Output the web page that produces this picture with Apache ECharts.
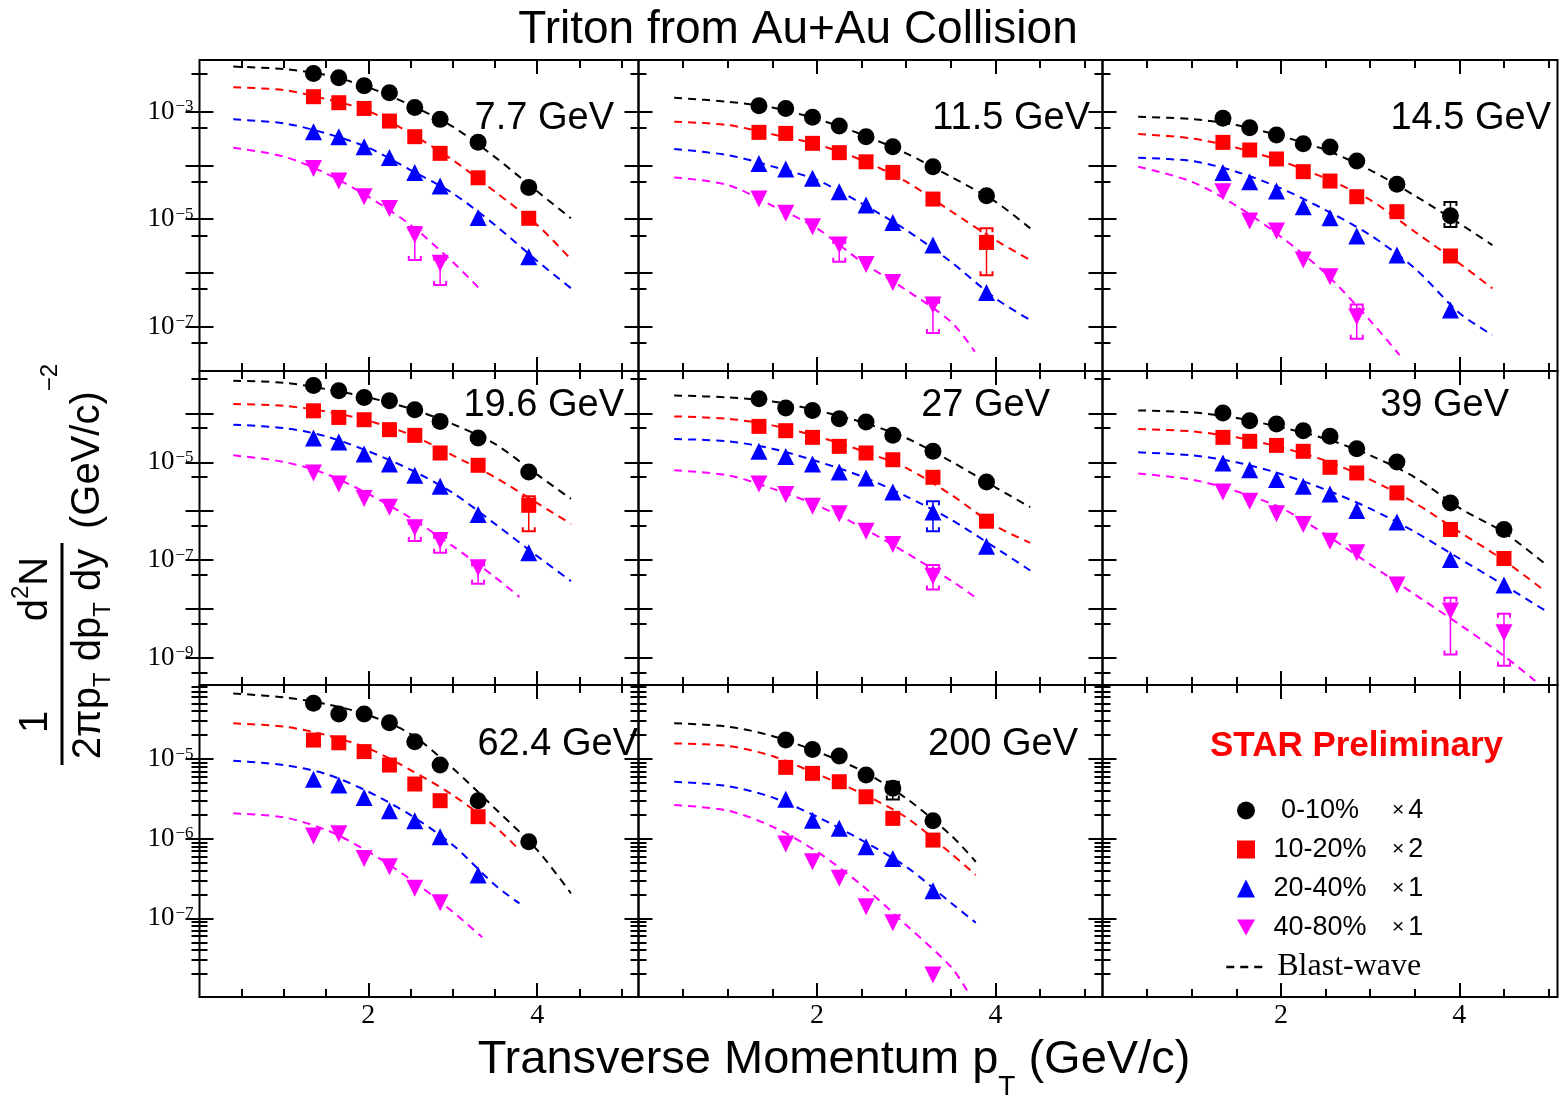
<!DOCTYPE html>
<html><head><meta charset="utf-8">
<script src="https://cdn.jsdelivr.net/npm/echarts@6/dist/echarts.min.js"></script>
<style>html,body{margin:0;padding:0;background:#fff}#c{width:1560px;height:1101px}</style>
</head><body><div id="c"></div>
<script>
// ---------------- DATA ----------------
const centralities = ['0-10%', '10-20%', '20-40%', '40-80%'];
const scaleFactors = [4, 2, 1, 1];
const energies = ['7.7 GeV', '11.5 GeV', '14.5 GeV', '19.6 GeV', '27 GeV', '39 GeV', '62.4 GeV', '200 GeV'];
const ptBins = [1.35, 1.65, 1.95, 2.25, 2.55, 2.85, 3.3, 3.9, 4.5];

// measured spectra, order: 0-10%, 10-20%, 20-40%, 40-80% (aligned with ptBins)
const pts_7p7 = [
  [5.16e-3, 4.30e-3, 3.05e-3, 2.25e-3, 1.2e-3, 7.2e-4, 2.69e-4, 3.91e-5, null],
  [1.9e-3, 1.47e-3, 1.15e-3, 6.7e-4, 3.43e-4, 1.68e-4, 5.9e-5, 1.04e-5, null],
  [4.25e-4, 3.43e-4, 2.23e-4, 1.41e-4, 7.4e-5, 4.14e-5, 1.08e-5, 2.0e-6, null],
  [8.8e-5, 5.13e-5, 2.62e-5, 1.59e-5, 5.07e-6, 1.51e-6, null, null, null]
];
const pts_11p5 = [
  [1.29e-3, 1.15e-3, 7.85e-4, 5.41e-4, 3.43e-4, 2.23e-4, 9.5e-5, 2.74e-5, null],
  [4.13e-4, 3.95e-4, 2.58e-4, 1.73e-4, 1.17e-4, 7.43e-5, 2.37e-5, 3.7e-6, null],
  [1.09e-4, 8.57e-5, 5.75e-5, 3.25e-5, 1.84e-5, 8.7e-6, 3.3e-6, 4.35e-7, null],
  [2.37e-5, 1.29e-5, 7.24e-6, 3.3e-6, 1.44e-6, 6.68e-7, 2.53e-7, null, null]
];
const pts_14p5 = [
  [7.52e-4, 5.04e-4, 3.68e-4, 2.54e-4, 2.2e-4, 1.21e-4, 4.45e-5, 1.16e-5, null],
  [2.69e-4, 1.94e-4, 1.32e-4, 7.66e-5, 5.13e-5, 2.62e-5, 1.38e-5, 2.07e-6, null],
  [7.43e-5, 4.99e-5, 3.34e-5, 1.71e-5, 1.07e-5, 4.86e-6, 2.15e-6, 2.04e-7, null],
  [3.25e-5, 9.25e-6, 6.03e-6, 1.74e-6, 8.51e-7, 1.54e-7, null, null, null]
];
const pts_19p6 = [
  [3.72e-4, 2.9e-4, 2.12e-4, 1.82e-4, 1.19e-4, 6.87e-5, 3.14e-5, 6.35e-6, null],
  [1.13e-4, 8.28e-5, 7.43e-5, 4.65e-5, 3.56e-5, 1.55e-5, 8.69e-6, 1.32e-6, null],
  [3.14e-5, 2.6e-5, 1.48e-5, 9.24e-6, 5.43e-6, 3.24e-6, 8.55e-7, 1.41e-7, null],
  [6.05e-6, 3.61e-6, 1.82e-6, 1.21e-6, 4.57e-7, 2.52e-7, 6.98e-8, null, null]
];
const pts_27 = [
  [1.99e-4, 1.29e-4, 1.15e-4, 7.78e-5, 6.65e-5, 3.56e-5, 1.68e-5, 3.97e-6, null],
  [5.43e-5, 4.43e-5, 3.24e-5, 2.12e-5, 1.55e-5, 1.13e-5, 4.94e-6, 6.25e-7, null],
  [1.68e-5, 1.32e-5, 9.24e-6, 6.35e-6, 4.79e-6, 2.48e-6, 9.69e-7, 1.93e-7, null],
  [3.61e-6, 2.19e-6, 1.26e-6, 8.83e-7, 3.91e-7, 2.09e-7, 4.71e-8, null, null]
];
const pts_39 = [
  [1.02e-4, 7.08e-5, 6.05e-5, 4.43e-5, 3.4e-5, 1.9e-5, 1.02e-5, 1.48e-6, 4.23e-7],
  [3.24e-5, 2.69e-5, 2.22e-5, 1.68e-5, 7.91e-6, 6.05e-6, 2.37e-6, 4.23e-7, 1.08e-7],
  [9.69e-6, 7.08e-6, 4.43e-6, 3.24e-6, 2.26e-6, 1.03e-6, 6.05e-7, 1.03e-7, 3.09e-8],
  [2.48e-6, 1.6e-6, 8.83e-7, 5.35e-7, 2.44e-7, 1.41e-7, 3.09e-8, 9.1e-9, 3.29e-9]
];
const pts_62p4 = [
  [5.0e-5, 3.67e-5, 3.67e-5, 2.86e-5, 1.65e-5, 8.41e-6, 3.0e-6, 9.16e-7, null],
  [1.73e-5, 1.6e-5, 1.24e-5, 8.41e-6, 4.86e-6, 3.0e-6, 1.89e-6, null, null],
  [5.56e-6, 4.72e-6, 3.3e-6, 2.25e-6, 1.68e-6, 1.06e-6, 3.5e-7, null, null],
  [1.08e-6, 1.15e-6, 5.66e-7, 4.45e-7, 2.38e-7, 1.57e-7, null, null, null]
];
const pts_200 = [
  [null, 1.73e-5, 1.32e-5, 1.09e-5, 6.3e-6, 4.29e-6, 1.68e-6, null, null],
  [null, 7.86e-6, 6.61e-6, 5.19e-6, 3.36e-6, 1.8e-6, 9.61e-7, null, null],
  [null, 3.12e-6, 1.71e-6, 1.35e-6, 7.94e-7, 5.66e-7, 2.22e-7, null, null],
  [null, 8.57e-7, 5.14e-7, 3.18e-7, 1.4e-7, 8.83e-8, 1.95e-8, null, null]
];

// visible error bars / systematic brackets: [pT, centrality index, low, high]
const errs_7p7 = [[2.55, 3, 1.74e-6, 7.2e-6], [2.85, 3, 6.0e-7, 2.0e-6]];
const errs_11p5 = [[3.9, 1, 9.1e-7, 6.8e-6], [2.25, 3, 1.62e-6, 4.1e-6], [3.3, 3, 7.6e-8, 3.16e-7]];
const errs_14p5 = [[3.9, 0, 7.2e-6, 2.1e-5], [2.85, 3, 6.0e-8, 2.6e-7]];
const errs_19p6 = [[3.9, 1, 3.9e-7, 2.03e-6], [2.55, 3, 2.46e-7, 6.3e-7], [2.85, 3, 1.41e-7, 3.3e-7], [3.3, 3, 3.3e-8, 8.9e-8]];
const errs_27 = [[3.3, 2, 3.9e-7, 1.6e-6], [3.3, 3, 2.5e-8, 8.0e-8]];
const errs_39 = [[3.9, 3, 1.18e-9, 1.7e-8], [4.5, 3, 6.9e-10, 8.0e-9]];
const errs_62p4 = [];
const errs_200 = [[2.85, 0, 3.1e-6, 5.2e-6]];

// blast-wave curves, [pT, value]
const fit_7p7 = [
  [[0.4,6.9e-3],[1.0,6.2e-3],[1.5,4.8e-3],[2.0,2.84e-3],[2.5,1.33e-3],[3.0,5.26e-4],[3.5,1.43e-4],[4.0,3.3e-5],[4.4,1.04e-5]],
  [[0.4,2.84e-3],[1.0,2.53e-3],[1.5,1.72e-3],[2.0,1.03e-3],[2.5,3.95e-4],[3.0,1.26e-4],[3.5,3.25e-5],[4.0,7.8e-6],[4.4,1.8e-6]],
  [[0.4,7.2e-4],[1.0,6.07e-4],[1.5,3.95e-4],[2.0,2.14e-4],[2.5,8.2e-5],[3.0,3.03e-5],[3.5,7.8e-6],[4.0,1.67e-6],[4.4,5.2e-7]],
  [[0.4,2.14e-4],[1.0,1.46e-4],[1.5,7.1e-5],[2.0,2.62e-5],[2.5,7.8e-6],[3.0,1.6e-6],[3.35,4.5e-7]]
];
const fit_11p5 = [
  [[0.4,1.82e-3],[1.0,1.53e-3],[1.5,1.2e-3],[2.0,7.3e-4],[2.5,3.78e-4],[3.0,1.68e-4],[3.5,6.18e-5],[4.0,2.12e-5],[4.39,6.75e-6]],
  [[0.4,6.52e-4],[1.0,5.65e-4],[1.5,3.79e-4],[2.0,2.47e-4],[2.5,1.26e-4],[3.0,4.99e-5],[3.5,1.42e-5],[4.0,4.09e-6],[4.39,1.74e-6]],
  [[0.4,2.02e-4],[1.0,1.56e-4],[1.5,9.6e-5],[2.0,5.36e-5],[2.5,1.97e-5],[3.0,6.28e-6],[3.5,1.62e-6],[4.0,3.37e-7],[4.39,1.33e-7]],
  [[0.4,6.0e-5],[1.0,4.33e-5],[1.5,1.78e-5],[2.0,6.75e-6],[2.5,1.62e-6],[3.0,4.81e-7],[3.5,1.24e-7],[3.77,3.43e-8]]
];
const fit_14p5 = [
  [[0.4,8.07e-4],[1.0,7.3e-4],[1.5,5.65e-4],[2.0,3.52e-4],[2.5,1.94e-4],[3.0,8.22e-5],[3.5,2.74e-5],[4.0,8.35e-6],[4.37,3.3e-6]],
  [[0.4,3.84e-4],[1.0,3.19e-4],[1.5,2.14e-4],[2.0,1.21e-4],[2.5,5.75e-5],[3.0,2.28e-5],[3.5,5.85e-6],[4.0,1.51e-6],[4.37,5.16e-7]],
  [[0.4,1.39e-4],[1.0,1.21e-4],[1.5,7.66e-5],[2.0,3.75e-5],[2.5,1.48e-5],[3.0,5.07e-6],[3.5,1.22e-6],[4.0,1.8e-7],[4.37,7.0e-8]],
  [[0.4,9.5e-5],[1.0,4.99e-5],[1.5,1.78e-5],[2.0,4.72e-6],[2.5,9.8e-7],[3.0,1.3e-7],[3.33,2.97e-8]]
];
const fit_19p6 = [
  [[0.4,4.65e-4],[1.0,4.23e-4],[1.5,3.14e-4],[2.0,2.12e-4],[2.5,1.25e-4],[3.0,6.05e-5],[3.5,2.37e-5],[4.0,5.6e-6],[4.4,1.79e-6]],
  [[0.4,1.55e-4],[1.0,1.43e-4],[1.5,1.1e-4],[2.0,7.08e-5],[2.5,3.67e-5],[3.0,1.39e-5],[3.5,4.94e-6],[4.0,1.46e-6],[4.4,5.51e-7]],
  [[0.4,5.87e-5],[1.0,5.02e-5],[1.5,3.4e-5],[2.0,1.68e-5],[2.5,7.08e-6],[3.0,2.37e-6],[3.5,5.51e-7],[4.0,1.21e-7],[4.4,3.72e-8]],
  [[0.4,1.39e-5],[1.0,1.02e-5],[1.5,5.78e-6],[2.0,2.26e-6],[2.5,7.31e-7],[3.0,1.93e-7],[3.5,4.5e-8],[3.79,1.76e-8]]
];
const fit_27 = [
  [[0.4,2.33e-4],[1.0,2.12e-4],[1.5,1.76e-4],[2.0,1.15e-4],[2.5,6.65e-5],[3.0,3.14e-5],[3.5,1.05e-5],[4.0,3.09e-6],[4.39,1.21e-6]],
  [[0.4,8.69e-5],[1.0,7.78e-5],[1.5,5.69e-5],[2.0,3.4e-5],[2.5,1.73e-5],[3.0,7.66e-6],[3.5,2.19e-6],[4.0,5.02e-7],[4.39,2.26e-7]],
  [[0.4,2.99e-5],[1.0,2.69e-5],[1.5,1.9e-5],[2.0,1.05e-5],[2.5,5.18e-6],[3.0,2.02e-6],[3.5,6.76e-7],[4.0,1.79e-7],[4.39,6.15e-8]],
  [[0.4,6.87e-6],[1.0,5.43e-6],[1.5,2.9e-6],[2.0,1.32e-6],[2.5,4.71e-7],[3.0,1.41e-7],[3.5,3.85e-8],[3.77,1.76e-8]]
];
const fit_39 = [
  [[0.4,1.15e-4],[1.0,1.05e-4],[1.5,8.04e-5],[2.0,5.18e-5],[2.5,3.04e-5],[3.0,1.39e-5],[3.5,4.94e-6],[4.0,1.17e-6],[4.5,3.67e-7],[4.97,8.17e-8]],
  [[0.4,4.79e-5],[1.0,4.29e-5],[1.5,3.24e-5],[2.0,2.02e-5],[2.5,1.08e-5],[3.0,4.43e-6],[3.5,1.48e-6],[4.0,3.79e-7],[4.5,9.84e-8],[4.97,2.26e-8]],
  [[0.4,1.6e-5],[1.0,1.39e-5],[1.5,1.0e-5],[2.0,5.78e-6],[2.5,2.77e-6],[3.0,1.13e-6],[3.5,3.79e-7],[4.0,1.08e-7],[4.5,3.09e-8],[4.97,9.1e-9]],
  [[0.4,5.88e-6],[1.0,4.43e-6],[1.5,2.56e-6],[2.0,1.17e-6],[2.5,3.34e-7],[3.0,8.17e-8],[3.5,1.99e-8],[4.0,4.86e-9],[4.5,1.1e-9],[4.85,3.4e-10]]
];
const fit_62p4 = [
  [[0.4,6.67e-5],[1.0,5.94e-5],[1.5,4.9e-5],[2.0,3.56e-5],[2.5,2.06e-5],[3.0,7.64e-6],[3.5,2.4e-6],[4.0,7.21e-7],[4.4,2.06e-7]],
  [[0.4,2.81e-5],[1.0,2.55e-5],[1.5,2.0e-5],[2.0,1.36e-5],[2.5,7.28e-6],[3.0,3.53e-6],[3.5,1.42e-6],[3.79,7.21e-7]],
  [[0.4,9.53e-6],[1.0,8.41e-6],[1.5,6.49e-6],[2.0,3.89e-6],[2.5,1.98e-6],[3.0,8.33e-7],[3.5,2.62e-7],[3.79,1.54e-7]],
  [[0.4,2.08e-6],[1.0,1.85e-6],[1.5,1.29e-6],[2.0,6.87e-7],[2.5,3.09e-7],[3.0,1.21e-7],[3.35,5.78e-8]]
];
const fit_200 = [
  [[0.4,2.81e-5],[1.0,2.55e-5],[1.5,1.95e-5],[2.0,1.24e-5],[2.5,7.14e-6],[3.0,3.21e-6],[3.5,1.11e-6],[3.78,5.14e-7]],
  [[0.4,1.57e-5],[1.0,1.46e-5],[1.5,1.09e-5],[2.0,6.49e-6],[2.5,3.71e-6],[3.0,1.85e-6],[3.5,6.55e-7],[3.78,3.5e-7]],
  [[0.4,5.19e-6],[1.0,4.58e-6],[1.5,3.3e-6],[2.0,1.89e-6],[2.5,9.61e-7],[3.0,4.45e-7],[3.5,1.57e-7],[3.78,8.83e-8]],
  [[0.4,2.65e-6],[1.0,2.25e-6],[1.5,1.42e-6],[2.0,6.87e-7],[2.5,2.62e-7],[3.0,8.24e-8],[3.5,2.47e-8],[3.7,1.15e-8]]
];

// axis ranges and ticks
const xMaxByCol = [5.2, 5.2, 5.1];
const yRangeByRow = [[1.5e-8, 9.16e-3], [2.8e-10, 7.36e-4], [1.03e-8, 8.5e-5]];
const xTickMajor = [2, 4];
const xTickMinor = [0.5, 1, 1.5, 2.5, 3, 3.5, 4.5, 5];
const yLabelsByRow = [[1e-3, 1e-5, 1e-7], [1e-5, 1e-7, 1e-9], [1e-5, 1e-6, 1e-7]];
const yMajorByRow = [[1e-3, 1e-4, 1e-5, 1e-6, 1e-7], [1e-4, 1e-5, 1e-6, 1e-7, 1e-8, 1e-9], [1e-5, 1e-6, 1e-7]];
const yMinorByRow = [
  [5e-3, 5e-4, 5e-5, 5e-6, 5e-7, 5e-8],
  [5e-4, 5e-5, 5e-6, 5e-7, 5e-8, 5e-9, 5e-10],
  [2e-8,3e-8,4e-8,5e-8,6e-8,7e-8,8e-8,9e-8, 2e-7,3e-7,4e-7,5e-7,6e-7,7e-7,8e-7,9e-7,
   2e-6,3e-6,4e-6,5e-6,6e-6,7e-6,8e-6,9e-6, 2e-5,3e-5,4e-5,5e-5,6e-5,7e-5,8e-5]
];

// ---------------- LAYOUT / STYLE ----------------
const colLayout = [{left: 199.5, width: 439}, {left: 638.5, width: 464}, {left: 1102.5, width: 455}];
const rowLayout = [{top: 60, height: 311}, {top: 371, height: 314}, {top: 685, height: 312}];
const colors = ['#000000', '#ff0000', '#0000ff', '#ff00ff'];
const symbols = ['circle', 'rect', 'triangle', 'triangle'];
const symRot = [0, 0, 0, 180];
const symSize = [17, 15, 17, 17];
const panelPts = [pts_7p7, pts_11p5, pts_14p5, pts_19p6, pts_27, pts_39, pts_62p4, pts_200];
const panelFits = [fit_7p7, fit_11p5, fit_14p5, fit_19p6, fit_27, fit_39, fit_62p4, fit_200];
const panelErrs = [errs_7p7, errs_11p5, errs_14p5, errs_19p6, errs_27, errs_39, errs_62p4, errs_200];
const labelPos = [[614,119],[1090,119],[1551,119],[624,406],[1050,406],[1509,406],[638,745],[1078,745]];

const SERIF = 'Liberation Serif';
const SANS = 'Liberation Sans';
const tickStyle = {color: '#000', width: 2};

const mctx = document.createElement('canvas').getContext('2d');
function tw(text, size) { mctx.font = size + 'px "' + SANS + '"'; return mctx.measureText(text).width; }

const grids = [], xAxes = [], yAxes = [], series = [];
for (let g = 0; g < 9; g++) {
  const row = Math.floor(g / 3), col = g % 3;
  grids.push({left: colLayout[col].left, width: colLayout[col].width, top: rowLayout[row].top,
    height: rowLayout[row].height, show: true, borderColor: '#000', borderWidth: 2,
    backgroundColor: 'transparent', containLabel: false, outerBoundsMode: 'none'});
  const xBase = {type: 'value', gridIndex: g, min: 0, max: xMaxByCol[col],
    axisLine: {show: false}, splitLine: {show: false}};
  xAxes.push(Object.assign({}, xBase, {position: 'bottom',
    axisTick: {show: true, inside: true, length: 14, customValues: xTickMajor, lineStyle: tickStyle},
    axisLabel: {show: row === 2, customValues: xTickMajor, fontFamily: SERIF, fontSize: 28, color: '#000', margin: 5}}));
  xAxes.push(Object.assign({}, xBase, {position: 'bottom',
    axisTick: {show: true, inside: true, length: 8, customValues: xTickMinor, lineStyle: tickStyle},
    axisLabel: {show: false}}));
  xAxes.push(Object.assign({}, xBase, {position: 'top',
    axisTick: {show: true, inside: true, length: 14, customValues: xTickMajor, lineStyle: tickStyle},
    axisLabel: {show: false}}));
  xAxes.push(Object.assign({}, xBase, {position: 'top',
    axisTick: {show: true, inside: true, length: 8, customValues: xTickMinor, lineStyle: tickStyle},
    axisLabel: {show: false}}));
  const yBase = {type: 'log', logBase: 10, gridIndex: g, min: yRangeByRow[row][0], max: yRangeByRow[row][1],
    axisLine: {show: false}, splitLine: {show: false}};
  yAxes.push(Object.assign({}, yBase, {position: 'left',
    axisTick: {show: true, inside: true, length: 14, customValues: yMajorByRow[row], lineStyle: tickStyle},
    axisLabel: {show: col === 0, customValues: yLabelsByRow[row], margin: 6,
      formatter: v => '{b|10}{s|\u2212' + (-Math.round(Math.log10(v))) + '}',
      rich: {b: {fontFamily: SERIF, fontSize: 27, color: '#000', verticalAlign: 'bottom', lineHeight: 27},
             s: {fontFamily: SERIF, fontSize: 17, color: '#000', verticalAlign: 'top', lineHeight: 17, padding: [0, 0, 16, 1]}}}}));
  yAxes.push(Object.assign({}, yBase, {position: 'left',
    axisTick: {show: true, inside: true, length: 8, customValues: yMinorByRow[row], lineStyle: tickStyle},
    axisLabel: {show: false}}));
  yAxes.push(Object.assign({}, yBase, {position: 'right',
    axisTick: {show: true, inside: true, length: 14, customValues: yMajorByRow[row], lineStyle: tickStyle},
    axisLabel: {show: false}}));
  yAxes.push(Object.assign({}, yBase, {position: 'right',
    axisTick: {show: true, inside: true, length: 8, customValues: yMinorByRow[row], lineStyle: tickStyle},
    axisLabel: {show: false}}));
}

function renderErr(params, api) {
  const x = api.value(0), c = api.value(1), lo = api.value(2), hi = api.value(3);
  const pLo = api.coord([x, lo]), pHi = api.coord([x, hi]);
  const w = 6, col = colors[c];
  return {type: 'group', children: [
    {type: 'line', shape: {x1: pLo[0], y1: pLo[1], x2: pHi[0], y2: pHi[1]}, style: {stroke: col, lineWidth: 1.5}},
    {type: 'polyline', shape: {points: [[pHi[0] - w, pHi[1] + 4], [pHi[0] - w, pHi[1]], [pHi[0] + w, pHi[1]], [pHi[0] + w, pHi[1] + 4]]},
     style: {stroke: col, fill: null, lineWidth: 2}},
    {type: 'polyline', shape: {points: [[pLo[0] - w, pLo[1] - 4], [pLo[0] - w, pLo[1]], [pLo[0] + w, pLo[1]], [pLo[0] + w, pLo[1] - 4]]},
     style: {stroke: col, fill: null, lineWidth: 2}}
  ]};
}

for (let p = 0; p < 8; p++) {
  for (let c = 0; c < 4; c++) {
    series.push({type: 'line', name: 'Blast-wave', xAxisIndex: 4 * p, yAxisIndex: 4 * p,
      data: panelFits[p][c], smooth: 0.3, symbol: 'none', showSymbol: false, silent: true, clip: true, z: 2,
      lineStyle: {color: colors[c], width: 2, type: [8, 6]}, itemStyle: {color: colors[c]}});
  }
  series.push({type: 'custom', name: 'errors', xAxisIndex: 4 * p, yAxisIndex: 4 * p, clip: true, z: 3, silent: true,
    data: panelErrs[p], encode: {x: 0, y: [2, 3]}, renderItem: renderErr});
  for (let c = 0; c < 4; c++) {
    series.push({type: 'scatter', name: centralities[c], xAxisIndex: 4 * p, yAxisIndex: 4 * p,
      data: ptBins.map((x, k) => [x, panelPts[p][c][k]]).filter(d => d[1] != null),
      symbol: symbols[c], symbolRotate: symRot[c], symbolSize: symSize[c], clip: true, z: 4,
      itemStyle: {color: colors[c], opacity: 1}, emphasis: {disabled: true}});
  }
}

// text helper: sequence of [text, size, dy] pieces laid out left to right (in a local frame)
function textRun(pieces, x0, yc) {
  const out = [];
  let x = x0;
  for (const [t, size, dy] of pieces) {
    out.push({type: 'text', x: x, y: yc + dy, style: {text: t, fontFamily: SANS, fontSize: size, fill: '#000', align: 'left', verticalAlign: 'middle'}});
    x += tw(t, size);
  }
  return {items: out, width: x - x0};
}

const graphics = [];
for (let p = 0; p < 8; p++) {
  graphics.push({type: 'text', x: labelPos[p][0], y: labelPos[p][1], z: 10,
    style: {text: energies[p], fontFamily: SANS, fontSize: 38, fill: '#000', align: 'right', verticalAlign: 'middle'}});
}
graphics.push({type: 'text', x: 1210, y: 746, z: 10,
  style: {text: 'STAR Preliminary', fontFamily: SANS, fontWeight: 'bold', fontSize: 35, fill: '#ff0000', align: 'left', verticalAlign: 'middle'}});

// x-axis title with subscript
const xPieces = [['Transverse Momentum p', 47, 0], ['T', 28, 27], [' (GeV/c)', 47, 0]];
let xW = 0; for (const [t, s] of xPieces) xW += tw(t, s);
graphics.push({type: 'group', x: 0, y: 0, z: 10, children: textRun(xPieces, 834 - xW / 2, 1060).items});

// y-axis title (rotated group, local x runs upward on screen, local y runs rightward)
const numLeft = textRun([['1', 40, 0]], 32, -26).items;
const dN = [['d', 40, 0], ['2', 24, -15], ['N', 40, 0]];
let dNw = 0; for (const [t, s] of dN) dNw += tw(t, s);
const numRight = textRun(dN, 176 - dNw / 2, -26).items;
const den = [['2\u03c0p', 40, 0], ['T', 24, 14], [' dp', 40, 0], ['T', 24, 14], [' dy', 40, 0]];
let denW = 0; for (const [t, s] of den) denW += tw(t, s);
const denItems = textRun(den, 111 - denW / 2, 27).items;
const unitRun = textRun([['(GeV/c)', 40, 0], ['\u22122', 24, -38]], 236, 26).items;
graphics.push({type: 'group', x: 62, y: 765, rotation: Math.PI / 2, z: 10, children: [
  {type: 'line', shape: {x1: 0, y1: 0, x2: 222, y2: 0}, style: {stroke: '#000', lineWidth: 3}}
].concat(numLeft, numRight, denItems, unitRun)});

const option = {
  backgroundColor: '#ffffff',
  animation: false,
  title: [
    {text: 'Triton from Au+Au Collision', left: 793, top: 2, textAlign: 'center',
     textStyle: {fontFamily: SANS, fontSize: 46, fontWeight: 'normal', color: '#000'}}
  ],
  legend: [
    {data: [{name: '0-10%'}, {name: '10-20%'}, {name: '20-40%'}, {name: '40-80%', icon: 'path://M0,0L10,0L5,9Z'}],
     orient: 'vertical', left: 1232, top: 792, itemWidth: 18, itemHeight: 18, itemGap: 12, selectedMode: false,
     formatter: name => '{a|' + name + '}{x|\u00d7}{n|' + scaleFactors[centralities.indexOf(name)] + '}',
     textStyle: {rich: {
       a: {fontFamily: SANS, fontSize: 27, color: '#000', width: 120, align: 'right'},
       x: {fontFamily: SANS, fontSize: 21, color: '#000', padding: [0, 4, 0, 12]},
       n: {fontFamily: SANS, fontSize: 27, color: '#000'}}}},
    {data: ['Blast-wave'], orient: 'vertical', left: 1220, top: 946, itemWidth: 42, itemHeight: 14, selectedMode: false,
     lineStyle: {color: '#000', type: [8, 6], width: 2.5}, itemStyle: {opacity: 0, borderWidth: 0},
     formatter: name => '{a|' + name + '}',
     textStyle: {rich: {a: {fontFamily: SERIF, fontSize: 32, color: '#000', padding: [0, 0, 0, 4], lineHeight: 32}}}}
  ],
  grid: grids,
  xAxis: xAxes,
  yAxis: yAxes,
  series: series,
  graphic: graphics
};

const chart = echarts.init(document.getElementById('c'), null, {renderer: 'canvas'});
chart.setOption(option);
</script>
</body></html>
